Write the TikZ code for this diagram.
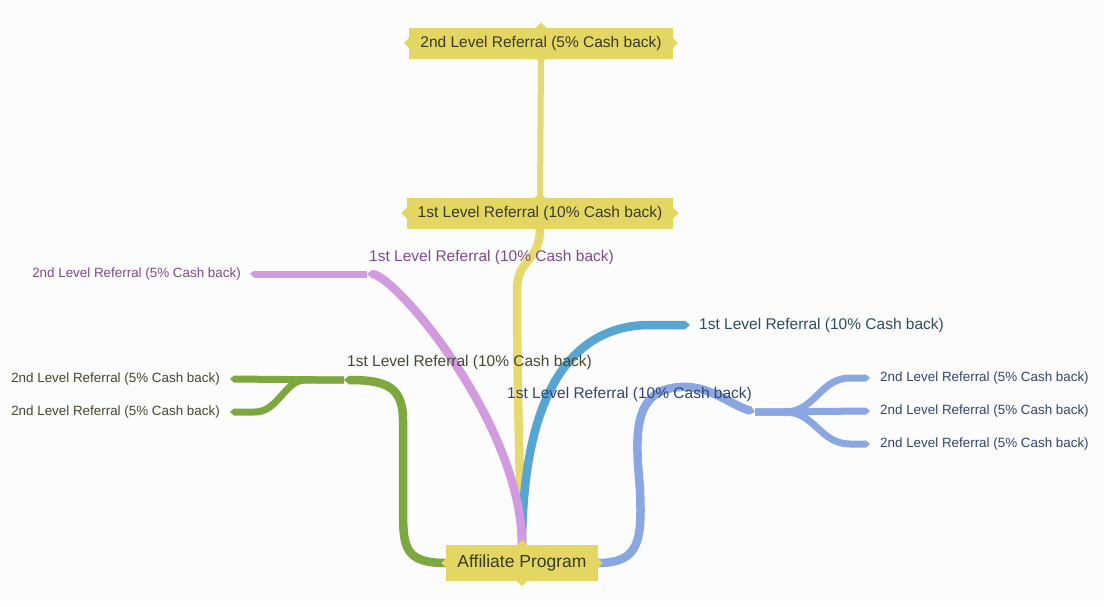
\documentclass[tikz,border=0pt]{standalone}
\usepackage{fontspec}
\setmainfont{Liberation Sans}
\usetikzlibrary{arrows.meta,positioning,backgrounds}
\definecolor{paper}{HTML}{FCFCFD}
\definecolor{ybox}{HTML}{E3D663}
\definecolor{yline}{HTML}{E6DA6C}
\definecolor{boxtext}{HTML}{3A3A22}
\definecolor{pline}{HTML}{D29BE0}
\definecolor{ptext}{HTML}{7D4A90}
\definecolor{gline}{HTML}{7CA83F}
\definecolor{gtext}{HTML}{3E4A2C}
\definecolor{bline}{HTML}{57A6D1}
\definecolor{btext}{HTML}{2E4A5E}
\definecolor{vline}{HTML}{8AA7E2}
\definecolor{vtext}{HTML}{33436F}
\tikzset{
  topic/.style ={fill=ybox,text=boxtext,inner xsep=11pt,inner ysep=0pt,
                 minimum height=31pt,font=\fontsize{15.5}{18}\selectfont},
  lbl/.style   ={inner sep=0pt,font=\fontsize{15.5}{18}\selectfont},
  leaf/.style  ={inner sep=0pt,font=\fontsize{13.4}{16}\selectfont},
  branch/.style={line width=8.5pt},
  twig/.style  ={line width=7pt},
  tip/.style   ={-{Triangle[length=0pt 0.6,width=0pt 1]}},
}

\begin{document}
\begin{tikzpicture}[x=1pt,y=-1pt]
  \useasboundingbox (0,0) rectangle (1104,606);
  % yellow boxes
  \node[topic,minimum height=36pt,font=\fontsize{17.5}{20}\selectfont] (root) at (522,563) {Affiliate Program};
  \node[topic] (lvmid) at (540,213) {1st Level Referral (10\% Cash back)};
  \node[topic] (lvtop) at (541,43) {2nd Level Referral (5\% Cash back)};
  \foreach \b in {root,lvmid,lvtop}{
    \fill[ybox] (\b.west) ++(-5,0) -- ++(6,-6) -- ++(0,12) -- cycle;
    \fill[ybox] (\b.east) ++(5,0) -- ++(-6,-6) -- ++(0,12) -- cycle;
    \fill[ybox] (\b.north) ++(0,-5) -- ++(6,6) -- ++(-12,0) -- cycle;
    \fill[ybox] (\b.south) ++(0,5) -- ++(6,-6) -- ++(-12,0) -- cycle;
  }
  % hubs and leaf ends
  \coordinate (pHub) at (367,274);
  \coordinate (pLeaf) at (250,274);
  \coordinate (gHub) at (344,380);
  \coordinate (gLeafA) at (230,379);
  \coordinate (gLeafB) at (230,412);
  \coordinate (bLeaf) at (690,325);
  \coordinate (vHub) at (755,412);
  \coordinate (vLeafA) at (870,378);
  \coordinate (vLeafB) at (870,411);
  \coordinate (vLeafC) at (870,444);
  % labels
  \node[lbl,text=ptext,anchor=west] (pTopic) at (369,257) {1st Level Referral (10\% Cash back)};
  \node[leaf,text=ptext,left=9pt of pLeaf] (pSub) {2nd Level Referral (5\% Cash back)};
  \node[lbl,text=gtext,anchor=west] (gTopic) at (347,362) {1st Level Referral (10\% Cash back)};
  \node[leaf,text=gtext,left=10pt of gLeafA] (gSubA) {2nd Level Referral (5\% Cash back)};
  \node[leaf,text=gtext,left=10pt of gLeafB] (gSubB) {2nd Level Referral (5\% Cash back)};
  \node[lbl,text=btext,right=9pt of bLeaf] (bTopic) {1st Level Referral (10\% Cash back)};
  \node[lbl,text=vtext,anchor=west] (vTopic) at (507,394) {1st Level Referral (10\% Cash back)};
  \node[leaf,text=vtext,right=10pt of vLeafA] (vSubA) {2nd Level Referral (5\% Cash back)};
  \node[leaf,text=vtext,right=10pt of vLeafB] (vSubB) {2nd Level Referral (5\% Cash back)};
  \node[leaf,text=vtext,right=10pt of vLeafC] (vSubC) {2nd Level Referral (5\% Cash back)};

  \begin{scope}[on background layer]
    \fill[paper] (0,0) rectangle (1104,606);
    % yellow
    \draw[branch,yline] (root.north) .. controls (518,430) and (517,340) .. (517,290)
      .. controls (517,258) and (540,262) .. (lvmid.south);
    \draw[line width=6pt,yline] (lvmid.north) -- (lvtop.south);
    % blue
    \draw[branch,bline,tip] (root.north) .. controls (523,380) and (580,325) .. (650,325) -- (bLeaf);
    % purple
    \draw[twig,pline,tip] (pHub) -- (pLeaf);
    \draw[branch,pline,tip] (root.north) .. controls (522,425) and (395,274) .. (pHub);
    % green
    \draw[twig,gline,tip] (gHub) -- (gLeafA);
    \draw[twig,gline,tip] (gHub) -- (305,380) .. controls (285,380) and (278,412) .. (255,412) -- (gLeafB);
    \draw[branch,gline,tip] (root.west) .. controls (405,563) and (403,548) .. (403,510)
      -- (403,420) .. controls (403,386) and (385,380) .. (gHub);
    % periwinkle
    \draw[twig,vline,tip] (vHub) -- (vLeafB);
    \draw[twig,vline,tip] (vHub) -- (785,412) .. controls (815,412) and (820,378) .. (850,378) -- (vLeafA);
    \draw[twig,vline,tip] (vHub) -- (785,412) .. controls (815,412) and (820,444) .. (850,444) -- (vLeafC);
    \draw[branch,vline,tip] (root.east) .. controls (640,563) and (642,540) .. (640,490)
      .. controls (636,440) and (630,390) .. (680,387) .. controls (710,385) and (730,405) .. (vHub);
  \end{scope}
\end{tikzpicture}
\end{document}
